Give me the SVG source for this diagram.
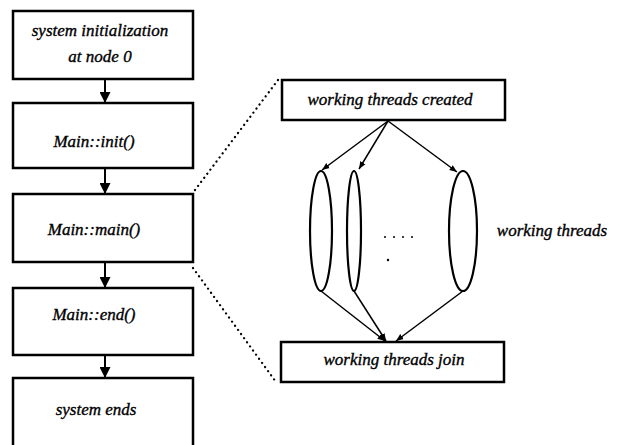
<svg xmlns="http://www.w3.org/2000/svg" width="621" height="445" viewBox="0 0 621 445">
<style>
.box{fill:#fff;stroke:#000;stroke-width:2.5}
.t{font-family:"Liberation Serif","Times New Roman",serif;font-style:italic;font-size:17px;fill:#000;stroke:#000;stroke-width:0.35;text-anchor:middle}
.ln{stroke:#000;stroke-width:2;fill:none}
.thin{stroke:#000;stroke-width:1.5;fill:none}
.dot{stroke:#000;stroke-width:2.2;fill:none;stroke-dasharray:0.1 5;stroke-linecap:round}
.ell{fill:none;stroke:#000;stroke-width:2.2}
</style>
<defs>
<marker id="ah" viewBox="0 0 10 10" refX="10" refY="5" markerWidth="5.5" markerHeight="5.5" orient="auto" markerUnits="strokeWidth"><path d="M0,0 L10,5 L0,10 z" fill="#000"/></marker>
<marker id="as" viewBox="0 0 10 10" refX="10" refY="5" markerWidth="5" markerHeight="5" orient="auto" markerUnits="strokeWidth"><path d="M0,1 L10,5 L0,9 z" fill="#000"/></marker>
</defs>
<g id="n1"><rect class="box" x="13" y="11" width="180" height="68"/><text class="t" x="100" y="36">system initialization</text><text class="t" x="100" y="62">at node 0</text></g>
<g id="n2"><rect class="box" x="13" y="103" width="180" height="65"/><text class="t" x="94" y="147">Main::init()</text></g>
<g id="n3"><rect class="box" x="13" y="194" width="180" height="68"/><text class="t" x="94" y="235">Main::main()</text></g>
<g id="n4"><rect class="box" x="13" y="288" width="180" height="67"/><text class="t" x="94" y="320">Main::end()</text></g>
<g id="n5"><rect class="box" x="13" y="378" width="180" height="75"/><text class="t" x="96" y="415">system ends</text></g>
<g id="n6"><rect class="box" x="282" y="80" width="223" height="40"/><text class="t" x="390" y="105">working threads created</text></g>
<g id="n7"><rect class="box" x="281" y="342" width="223" height="40"/><text class="t" x="394" y="365">working threads join</text></g>
<g id="threads">
<ellipse class="ell" cx="321" cy="231" rx="11" ry="60"/>
<ellipse class="ell" cx="354" cy="231" rx="7" ry="60"/>
<ellipse class="ell" cx="463" cy="231" rx="14" ry="60"/>
<g fill="#000"><circle cx="385" cy="237" r="1"/><circle cx="394" cy="237" r="1"/><circle cx="403" cy="237" r="1"/><circle cx="412" cy="237" r="1"/><circle cx="388" cy="260" r="1.2"/></g>
<text class="t" x="552" y="236">working threads</text>
</g>
<g id="connectors">
<line class="ln" x1="105" y1="80" x2="105" y2="103" marker-end="url(#ah)"/>
<line class="ln" x1="105" y1="169" x2="105" y2="194" marker-end="url(#ah)"/>
<line class="ln" x1="105" y1="263" x2="105" y2="288" marker-end="url(#ah)"/>
<line class="ln" x1="105" y1="356" x2="105" y2="378" marker-end="url(#ah)"/>
<line class="thin" x1="388" y1="121" x2="322" y2="170" marker-end="url(#as)"/>
<line class="thin" x1="388" y1="121" x2="359" y2="169" marker-end="url(#as)"/>
<line class="thin" x1="388" y1="121" x2="457" y2="172" marker-end="url(#as)"/>
<line class="thin" x1="321" y1="291" x2="385" y2="341" marker-end="url(#as)"/>
<line class="thin" x1="354" y1="291" x2="386" y2="341" marker-end="url(#as)"/>
<line class="thin" x1="463" y1="291" x2="396" y2="341" marker-end="url(#as)"/>
<line class="dot" x1="195" y1="190" x2="278" y2="80"/>
<line class="dot" x1="193" y1="268" x2="276" y2="382"/>
</g>
</svg>
